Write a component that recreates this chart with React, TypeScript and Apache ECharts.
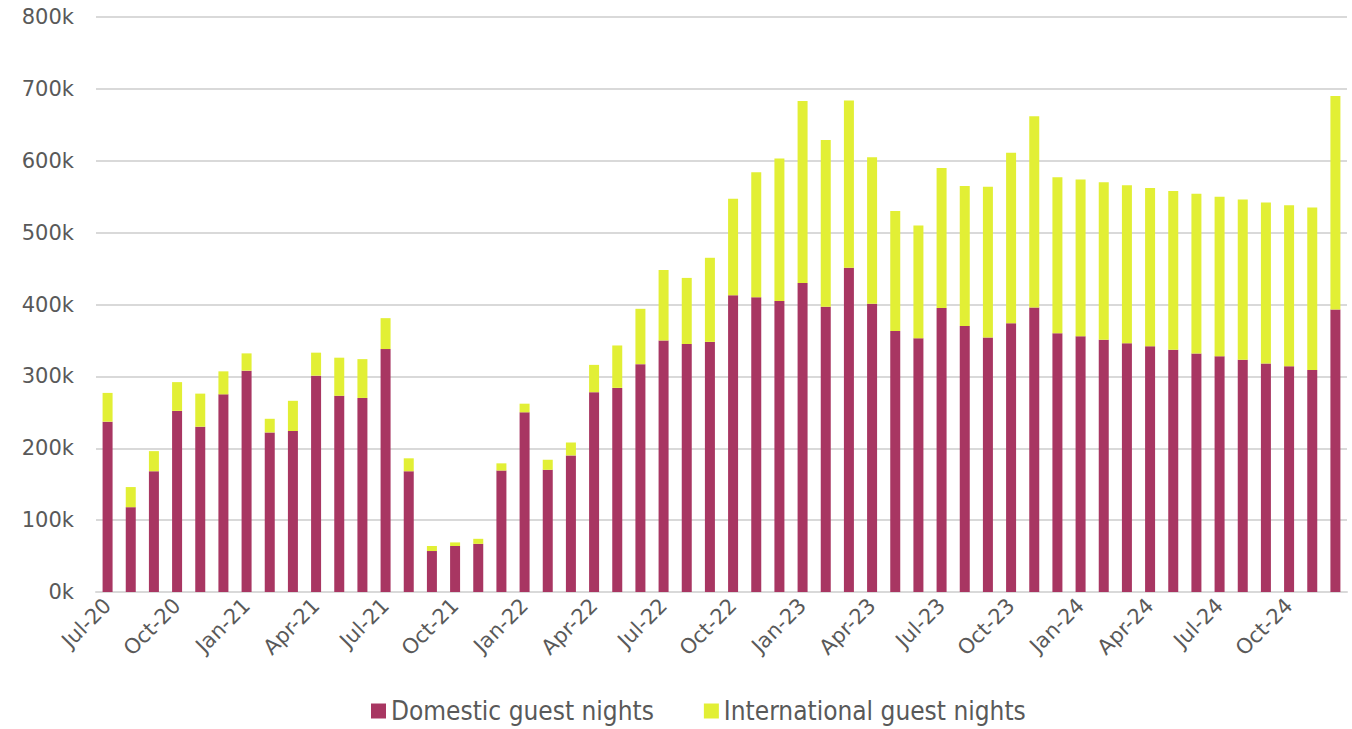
import React, { useEffect, useRef } from "react";
import * as echarts from "echarts";

const months = [
  "Jul-20","Aug-20","Sep-20","Oct-20","Nov-20","Dec-20",
  "Jan-21","Feb-21","Mar-21","Apr-21","May-21","Jun-21","Jul-21","Aug-21","Sep-21","Oct-21","Nov-21","Dec-21",
  "Jan-22","Feb-22","Mar-22","Apr-22","May-22","Jun-22","Jul-22","Aug-22","Sep-22","Oct-22","Nov-22","Dec-22",
  "Jan-23","Feb-23","Mar-23","Apr-23","May-23","Jun-23","Jul-23","Aug-23","Sep-23","Oct-23","Nov-23","Dec-23",
  "Jan-24","Feb-24","Mar-24","Apr-24","May-24","Jun-24","Jul-24","Aug-24","Sep-24","Oct-24","Nov-24","Dec-24",
];

const domestic = [
  237000, 118000, 168000, 252000, 230000, 275000,
  308000, 222000, 224000, 301000, 273000, 270000, 338000, 168000, 57000, 64000, 67000, 169000,
  250000, 170000, 190000, 278000, 284000, 317000, 350000, 345000, 348000, 413000, 410000, 405000,
  430000, 397000, 451000, 401000, 363000, 353000, 395000, 370000, 354000, 374000, 396000, 360000,
  356000, 351000, 346000, 342000, 337000, 332000, 328000, 323000, 318000, 314000, 309000, 393000,
];

const totals = [
  277000, 146000, 196000, 292000, 276000, 307000,
  332000, 241000, 266000, 333000, 326000, 324000, 381000, 186000, 64000, 69000, 74000, 179000,
  262000, 184000, 208000, 316000, 343000, 394000, 448000, 437000, 465000, 547000, 584000, 603000,
  683000, 629000, 684000, 605000, 530000, 510000, 590000, 565000, 564000, 611000, 662000, 577000,
  574000, 570000, 566000, 562000, 558000, 554000, 550000, 546000, 542000, 538000, 535000, 690000,
];

const international = totals.map((t, i) => t - domestic[i]);

const yTicks = { min: 0, max: 800000, interval: 100000 };

export default function App() {
  const ref = useRef<HTMLDivElement>(null);
  useEffect(() => {
    if (!ref.current) return;
    const chart = echarts.init(ref.current, null, { renderer: "svg" });
    const font = "'DejaVu Sans', 'Liberation Sans', sans-serif";
    chart.setOption({
      animation: false,
      textStyle: { fontFamily: font },
      grid: { left: 96, right: 5, top: 17, bottom: 137, containLabel: false },
      legend: {
        top: 697,
        left: 371,
        padding: 0,
        itemWidth: 15,
        itemHeight: 15,
        itemGap: 50,
        icon: "rect",
        textStyle: {
          fontSize: 26,
          lineHeight: 28,
          color: "#595959",
          fontFamily: "'DejaVu Sans Condensed', 'Liberation Sans Narrow', 'Liberation Sans', sans-serif",
        },
        data: ["Domestic guest nights", "International guest nights"],
      },
      xAxis: {
        type: "category",
        data: months,
        axisLine: { lineStyle: { color: "#d9d9d9", width: 2 } },
        axisTick: { interval: 2, length: 6, lineStyle: { color: "#d9d9d9", width: 2 } },
        axisLabel: { interval: 2, rotate: 45, fontSize: 21, color: "#595959", margin: 10, fontFamily: font },
      },
      yAxis: {
        type: "value",
        min: yTicks.min,
        max: yTicks.max,
        interval: yTicks.interval,
        axisLabel: {
          fontSize: 21,
          color: "#595959",
          margin: 22,
          fontFamily: font,
          formatter: (v: number) => `${v / 1000}k`,
        },
        axisLine: { show: false },
        axisTick: { show: false },
        splitLine: { lineStyle: { color: "#d9d9d9", width: 2 } },
      },
      series: [
        {
          name: "Domestic guest nights",
          type: "bar",
          stack: "total",
          barWidth: 10,
          itemStyle: { color: "#A83662" },
          data: domestic,
        },
        {
          name: "International guest nights",
          type: "bar",
          stack: "total",
          barWidth: 10,
          itemStyle: { color: "#E2EF35" },
          data: international,
        },
      ],
    });
    return () => chart.dispose();
  }, []);
  return (
    <div
      ref={ref}
      style={{ position: "absolute", left: 0, top: 0, width: 1352, height: 729, background: "#fff" }}
    />
  );
}
